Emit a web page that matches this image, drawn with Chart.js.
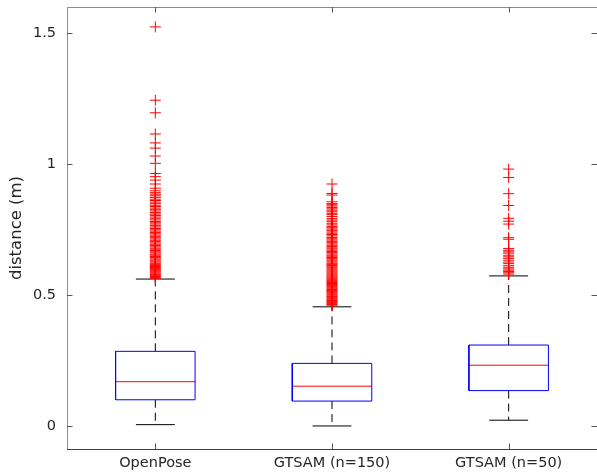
<!DOCTYPE html>
<html lang="en">
<head>
  <meta charset="UTF-8">
  <title>distance boxplot</title>
  <script src="https://cdn.jsdelivr.net/npm/chart.js"></script>
  <style>
    html, body { margin: 0; padding: 0; background: #fff; overflow: hidden; }
    #wrap { width: 597px; height: 472px; }
    canvas { display: block; }
  </style>
</head>
<body>
  <div id="wrap"><canvas id="grafico"></canvas></div>

  <script>
    const categories = ['OpenPose', 'GTSAM (n=150)', 'GTSAM (n=50)'];

    // box statistics (m)
    const whiskerLow  = [0.005, 0.000, 0.022];
    const q1          = [0.100, 0.095, 0.135];
    const median      = [0.169, 0.152, 0.232];
    const q3          = [0.285, 0.239, 0.309];
    const whiskerHigh = [0.561, 0.455, 0.573];

    const outliersOpenPose = [
      1.524, 1.244, 1.196, 1.115, 1.081, 1.061, 1.031, 1.003, 0.964, 0.952, 0.939, 0.924, 0.908,
      0.898, 0.891, 0.885, 0.879, 0.873, 0.866, 0.861, 0.855, 0.849, 0.843, 0.838, 0.832, 0.826,
      0.821, 0.815, 0.809, 0.804, 0.798, 0.793, 0.787, 0.781, 0.776, 0.771, 0.765, 0.760, 0.754,
      0.749, 0.744, 0.739, 0.734, 0.729, 0.724, 0.719, 0.714, 0.709, 0.704, 0.699, 0.694, 0.689,
      0.684, 0.679, 0.675, 0.670, 0.665, 0.661, 0.656, 0.652, 0.647, 0.643, 0.638, 0.634, 0.630,
      0.626, 0.621, 0.617, 0.613, 0.609, 0.605, 0.601, 0.597, 0.593, 0.589, 0.585, 0.581, 0.578,
      0.574, 0.571, 0.567, 0.564
    ];
    const outliersGtsam150 = [
      0.924, 0.888, 0.882, 0.856, 0.849, 0.845, 0.840, 0.834, 0.829, 0.824, 0.818, 0.812, 0.807,
      0.800, 0.792, 0.786, 0.780, 0.774, 0.768, 0.762, 0.757, 0.752, 0.747, 0.741, 0.736, 0.731,
      0.726, 0.720, 0.715, 0.710, 0.705, 0.700, 0.695, 0.690, 0.685, 0.680, 0.676, 0.671, 0.666,
      0.662, 0.657, 0.652, 0.648, 0.643, 0.639, 0.634, 0.630, 0.626, 0.621, 0.617, 0.613, 0.608,
      0.604, 0.600, 0.596, 0.592, 0.588, 0.584, 0.580, 0.576, 0.572, 0.568, 0.564, 0.560, 0.556,
      0.552, 0.548, 0.544, 0.540, 0.536, 0.532, 0.528, 0.524, 0.521, 0.517, 0.513, 0.509, 0.505,
      0.501, 0.497, 0.494, 0.490, 0.486, 0.482, 0.479, 0.475, 0.471, 0.468, 0.464, 0.461
    ];
    const outliersGtsam50 = [
      0.981, 0.949, 0.887, 0.842, 0.793, 0.782, 0.771, 0.719, 0.713, 0.678, 0.671, 0.665, 0.660,
      0.652, 0.646, 0.640, 0.633, 0.626, 0.620, 0.612, 0.606, 0.600, 0.595, 0.590, 0.585, 0.580
    ];
    const outliers = [outliersOpenPose, outliersGtsam150, outliersGtsam50];

    const yTicks = [0, 0.5, 1, 1.5];

    Chart.defaults.font.family = "'DejaVu Sans', sans-serif";
    Chart.defaults.color = '#262626';

    const boxHalf = 0.225;
    const capHalf = 0.11;

    function segment(points, color, dash) {
      return {
        type: 'line',
        data: points,
        borderColor: color,
        borderWidth: 1,
        borderDash: dash || [],
        pointRadius: 0,
        fill: false,
        tension: 0,
        order: 1
      };
    }

    const datasets = [];
    categories.forEach((name, i) => {
      const x = i + 1;
      datasets.push(segment([
        {x: x - boxHalf, y: q1[i]}, {x: x + boxHalf, y: q1[i]},
        {x: x + boxHalf, y: q3[i]}, {x: x - boxHalf, y: q3[i]},
        {x: x - boxHalf, y: q1[i]}
      ], '#0000ff'));
      datasets.push(segment([{x: x - boxHalf, y: median[i]}, {x: x + boxHalf, y: median[i]}], '#ff0000'));
      datasets.push(segment([{x: x, y: q3[i]}, {x: x, y: whiskerHigh[i]}], '#000000', [8, 5]));
      datasets.push(segment([{x: x, y: q1[i]}, {x: x, y: whiskerLow[i]}], '#000000', [8, 5]));
      datasets.push(segment([{x: x - capHalf, y: whiskerHigh[i]}, {x: x + capHalf, y: whiskerHigh[i]}], '#000000'));
      datasets.push(segment([{x: x - capHalf, y: whiskerLow[i]}, {x: x + capHalf, y: whiskerLow[i]}], '#000000'));
      datasets.push({
        type: 'scatter',
        data: outliers[i].map(v => ({x: x, y: v})),
        pointStyle: 'cross',
        pointRadius: 5.5,
        pointBorderColor: '#ff0000',
        pointBorderWidth: 1,
        showLine: false,
        order: 0
      });
    });

    // box frame and inward tick marks, MATLAB style
    const moldura = {
      id: 'moldura',
      afterDatasetsDraw(chart) {
        const {ctx, chartArea: a, scales: {x, y}} = chart;
        ctx.save();
        ctx.lineWidth = 1;
        ctx.strokeStyle = '#8c8c8c';
        ctx.beginPath();
        ctx.moveTo(a.left + 0.5, a.bottom);
        ctx.lineTo(a.left + 0.5, a.top + 0.5);
        ctx.lineTo(a.right, a.top + 0.5);
        ctx.stroke();
        ctx.strokeStyle = '#404040';
        ctx.beginPath();
        ctx.moveTo(a.left, a.bottom + 0.5);
        ctx.lineTo(a.right, a.bottom + 0.5);
        ctx.stroke();

        ctx.strokeStyle = '#555555';
        ctx.beginPath();
        yTicks.forEach(v => {
          const py = Math.round(y.getPixelForValue(v)) + 0.5;
          ctx.moveTo(a.left, py); ctx.lineTo(a.left + 5.5, py);
          ctx.moveTo(a.right, py); ctx.lineTo(a.right - 5.5, py);
        });
        categories.forEach((c, i) => {
          const px = Math.round(x.getPixelForValue(i + 1)) + 0.5;
          ctx.moveTo(px, a.bottom); ctx.lineTo(px, a.bottom - 5.5);
          ctx.moveTo(px, a.top); ctx.lineTo(px, a.top + 5.5);
        });
        ctx.stroke();
        ctx.restore();
      }
    };

    new Chart(document.getElementById('grafico'), {
      type: 'scatter',
      data: { datasets: datasets },
      plugins: [moldura],
      options: {
        responsive: true,
        maintainAspectRatio: false,
        animation: false,
        events: [],
        layout: { padding: { top: 7, right: -1, bottom: 0, left: 0 }, autoPadding: false },
        plugins: {
          legend: { display: false },
          tooltip: { enabled: false }
        },
        scales: {
          x: {
            type: 'linear',
            min: 0.5,
            max: 3.5,
            grid: { display: false, drawTicks: false },
            border: { display: false },
            afterBuildTicks: s => { s.ticks = categories.map((c, i) => ({value: i + 1})); },
            afterFit: s => { s.height = 23; s.paddingLeft = 0; s.paddingRight = 0; },
            ticks: {
              padding: 6,
              autoSkip: false,
              maxRotation: 0,
              font: { size: 14.5 },
              callback: v => categories[v - 1]
            }
          },
          y: {
            min: -0.088,
            max: 1.6,
            grid: { display: false, drawTicks: false },
            border: { display: false },
            afterBuildTicks: s => { s.ticks = yTicks.map(v => ({value: v})); },
            afterFit: s => { s.width = 67; s.paddingTop = 0; s.paddingBottom = 0; },
            ticks: {
              padding: 11,
              font: { size: 14.5 },
              callback: v => String(v)
            },
            title: {
              display: true,
              text: 'distance (m)',
              font: { size: 16.5 },
              padding: { top: 7, bottom: 0 }
            }
          }
        }
      }
    });
  </script>
</body>
</html>
